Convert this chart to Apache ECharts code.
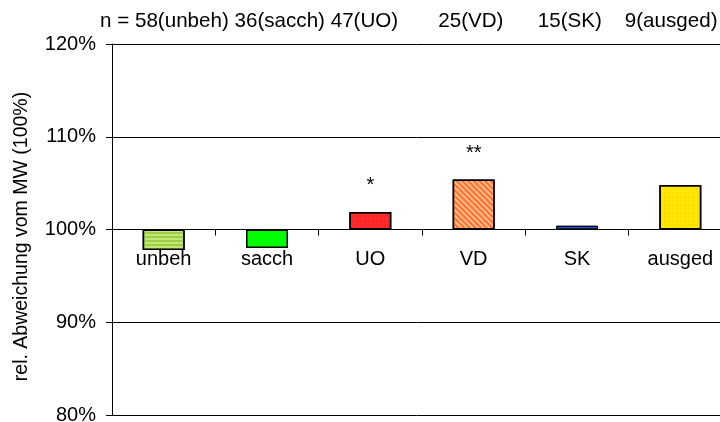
<!DOCTYPE html>
<html>
<head>
<meta charset="utf-8">
<script src="https://cdn.jsdelivr.net/npm/echarts@6/dist/echarts.min.js"></script>
<style>
  html, body { margin: 0; padding: 0; background: #fff; }
  #chart { width: 720px; height: 422px; }
</style>
</head>
<body>
<div id="chart"></div>
<script>
// Daten
const categories = ['unbeh', 'sacch', 'UO', 'VD', 'SK', 'ausged'];
const values = [97.8, 98.0, 101.9, 105.4, 100.4, 104.8];   // % vom MW
const nCounts = [58, 36, 47, 25, 15, 9];
const signif = ['', '', '*', '**', '', ''];
const yMin = 80, yMax = 120, yStep = 10;
const baseline = 100;

// Füllungen (Excel-Muster grob nachgebildet)
const fills = [
  { color: '#c4e67a', border: 1.5, decal: { symbol: 'rect', dashArrayX: [1, 0], dashArrayY: [2, 2], color: '#9fd040' } },
  { color: '#00ff00', border: 1.5 },
  { color: '#ff2a2a', border: 1.5, decal: { symbol: 'rect', symbolSize: 0.6, dashArrayX: [2, 2], dashArrayY: [2, 2], color: '#e01010' } },
  { color: '#ffbb88', border: 1.5, decal: { symbol: 'rect', dashArrayX: [1, 0], dashArrayY: [2, 2], rotation: Math.PI / 4, color: '#ff7030' } },
  { color: '#2450ee', border: 1, decal: { symbol: 'rect', symbolSize: 0.6, dashArrayX: [2, 2], dashArrayY: [2, 2], color: '#1a3cc0' } },
  { color: '#ffe600', border: 1.5, decal: { symbol: 'rect', symbolSize: 0.6, dashArrayX: [2, 2], dashArrayY: [2, 2], color: '#f0c000' } }
];

const font = 'Liberation Sans, Arial, sans-serif';

// Kopfzeile mit n
const nParts = categories.map((c, i) => nCounts[i] + '(' + c + ')');
const headText = 'n = ' + nParts.slice(0, 3).join(' ') + '       ' + nParts[3] +
  '      ' + nParts[4] + '    ' + nParts[5];

const chart = echarts.init(document.getElementById('chart'));

function barStyle (i) {
  const s = { color: fills[i].color, borderColor: '#000', borderWidth: fills[i].border };
  if (fills[i].decal) s.decal = fills[i].decal;
  return s;
}

chart.setOption({
  animation: false,
  backgroundColor: '#fff',
  textStyle: { fontFamily: font },
  title: {
    text: headText,
    left: 100,
    top: 11,
    padding: 0,
    textStyle: { fontSize: 20.6, fontWeight: 'normal', color: '#000', fontFamily: font }
  },
  grid: { left: 112, right: -12, top: 44, bottom: 7, outerBoundsMode: 'none', containLabel: false },
  xAxis: {
    type: 'category',
    data: categories,
    axisLine: { onZero: true, lineStyle: { color: '#000', width: 1 } },
    axisTick: { show: true, length: 6, inside: false, interval: 0, lineStyle: { color: '#000' } },
    axisLabel: { show: false },
    splitLine: { show: false }
  },
  yAxis: {
    type: 'value',
    min: yMin - baseline,
    max: yMax - baseline,
    interval: yStep,
    name: 'rel. Abweichung vom MW (100%)',
    nameLocation: 'middle',
    nameGap: 80,
    nameRotate: 90,
    nameTextStyle: { color: '#000', fontSize: 19.5, fontFamily: font, padding: [0, 14, 0, 0] },
    axisLine: { show: true, lineStyle: { color: '#000', width: 1 } },
    axisTick: { show: true, length: 6, lineStyle: { color: '#000' } },
    axisLabel: {
      color: '#000',
      fontSize: 20,
      margin: 16,
      formatter: v => (v + baseline) + '%'
    },
    splitLine: { show: true, lineStyle: { color: '#000', width: 1 } }
  },
  series: [{
    type: 'bar',
    barWidth: 42,
    data: values.map((v, i) => ({
      value: +(v - baseline).toFixed(2),
      itemStyle: barStyle(i),
      label: {
        show: signif[i] !== '',
        position: 'top',
        distance: 16,
        formatter: signif[i],
        color: '#000',
        fontSize: 20
      }
    }))
  }, {
    // Kategorienamen direkt unter der 100%-Linie
    type: 'scatter',
    symbolSize: 0,
    silent: true,
    itemStyle: { opacity: 1 },
    data: categories.map(() => 0),
    label: {
      show: true,
      position: 'bottom',
      distance: 20,
      formatter: p => categories[p.dataIndex],
      color: '#000',
      opacity: 1,
      fontSize: 20
    }
  }]
});
</script>
</body>
</html>
